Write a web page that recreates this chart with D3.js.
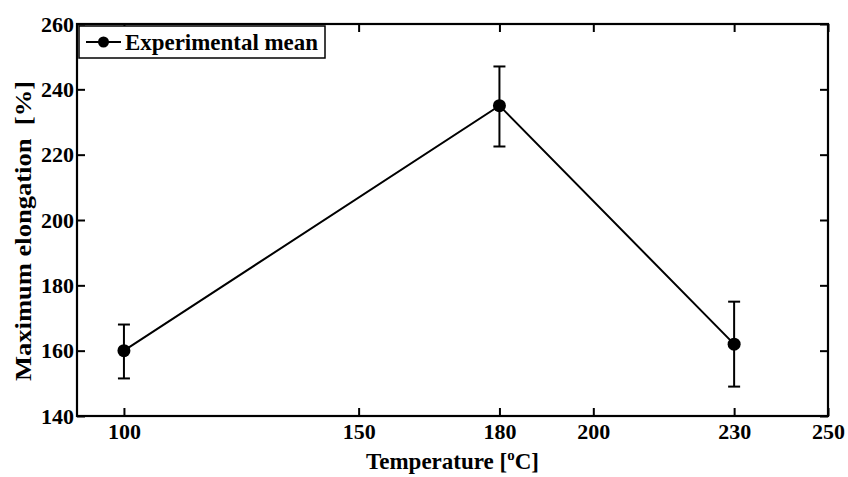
<!DOCTYPE html>
<html>
<head>
<meta charset="utf-8">
<script src="https://cdn.jsdelivr.net/npm/d3@7"></script>
<style>
  body { margin: 0; background: #fff; }
  svg text { font-family: "Liberation Serif", "DejaVu Serif", serif !important; font-weight: bold; fill: #000; }
</style>
</head>
<body>
<div id="chart"></div>
<script>
const temperatures = [100, 180, 230];
const meanElongation = [160, 235, 162];
const errLow = [151.5, 222.5, 149];
const errHigh = [168, 247, 175];
const xTicks = [100, 150, 180, 200, 230, 250];
const yTicks = [140, 160, 180, 200, 220, 240, 260];

const data = temperatures.map((t, i) => ({
  t,
  v: meanElongation[i],
  lo: errLow[i],
  hi: errHigh[i],
}));

const W = 848, H = 477;
const margin = { top: 24, right: 20, bottom: 61, left: 77 };
const width = 828 - margin.left;
const height = 416 - margin.top;
const fontSize = '22px';

const svg = d3
  .select('#chart')
  .append('svg')
  .attr('width', W)
  .attr('height', H);

const g = svg.append('g').attr('transform', 'translate(' + margin.left + ',' + margin.top + ')');

const x = d3.scaleLinear().domain([90, 250]).range([0, width]);
const y = d3.scaleLinear().domain([140, 260]).range([height, 0]);

const tickLen = 8;

// axes with inward ticks on all four sides
const styleAxis = (sel) => {
  sel.attr('font-family', null).attr('font-size', null);
  sel.select('.domain').remove();
  sel.selectAll('line').attr('stroke', '#000').attr('stroke-width', 2);
  sel.selectAll('text').style('font-size', fontSize);
};

g.append('g')
  .attr('transform', 'translate(0,' + height + ')')
  .call(d3.axisBottom(x).tickValues(xTicks).tickSize(-tickLen).tickFormat(d3.format('d')))
  .call(styleAxis)
  .selectAll('text')
  .attr('dy', '0.71em')
  .attr('y', 7);

g.append('g')
  .call(d3.axisTop(x).tickValues(xTicks).tickSize(-tickLen).tickFormat(''))
  .call(styleAxis);

g.append('g')
  .call(d3.axisLeft(y).tickValues(yTicks).tickSize(-tickLen).tickFormat(d3.format('d')))
  .call(styleAxis)
  .selectAll('text')
  .attr('x', -3);

g.append('g')
  .attr('transform', 'translate(' + width + ',0)')
  .call(d3.axisRight(y).tickValues(yTicks).tickSize(-tickLen).tickFormat(''))
  .call(styleAxis);

g.append('rect')
  .attr('width', width)
  .attr('height', height)
  .attr('fill', 'none')
  .attr('stroke', '#000')
  .attr('stroke-width', 2.2);

// error bars
const cap = 6;
const eb = g.selectAll('.eb').data(data).enter().append('g').attr('class', 'eb');
eb.append('line')
  .attr('x1', (d) => x(d.t)).attr('x2', (d) => x(d.t))
  .attr('y1', (d) => y(d.lo)).attr('y2', (d) => y(d.hi))
  .attr('stroke', '#000').attr('stroke-width', 2);
eb.append('line')
  .attr('x1', (d) => x(d.t) - cap).attr('x2', (d) => x(d.t) + cap)
  .attr('y1', (d) => y(d.lo)).attr('y2', (d) => y(d.lo))
  .attr('stroke', '#000').attr('stroke-width', 2);
eb.append('line')
  .attr('x1', (d) => x(d.t) - cap).attr('x2', (d) => x(d.t) + cap)
  .attr('y1', (d) => y(d.hi)).attr('y2', (d) => y(d.hi))
  .attr('stroke', '#000').attr('stroke-width', 2);

// mean line
g.append('path')
  .datum(data)
  .attr('fill', 'none')
  .attr('stroke', '#000')
  .attr('stroke-width', 2)
  .attr('d', d3.line().x((d) => x(d.t)).y((d) => y(d.v)));

g.selectAll('.dot')
  .data(data)
  .enter()
  .append('circle')
  .attr('cx', (d) => x(d.t))
  .attr('cy', (d) => y(d.v))
  .attr('r', 6.5)
  .attr('fill', '#000');

// legend
const legend = svg.append('g').attr('transform', 'translate(79,26)');
legend.append('rect')
  .attr('width', 246).attr('height', 32)
  .attr('fill', '#fff').attr('stroke', '#000').attr('stroke-width', 1.5);
legend.append('line')
  .attr('x1', 7).attr('x2', 42).attr('y1', 16).attr('y2', 16)
  .attr('stroke', '#000').attr('stroke-width', 2);
legend.append('circle').attr('cx', 24.5).attr('cy', 16).attr('r', 5.5).attr('fill', '#000');
legend.append('text')
  .attr('x', 46).attr('y', 24)
  .style('font-size', '23px')
  .attr('textLength', 193)
  .attr('lengthAdjust', 'spacingAndGlyphs')
  .text('Experimental mean');

// axis titles
const xt = svg.append('text')
  .attr('x', margin.left + width / 2)
  .attr('y', 469)
  .attr('text-anchor', 'middle')
  .style('font-size', '23px');
xt.append('tspan').text('Temperature [');
xt.append('tspan').attr('dy', -9).style('font-size', '15px').text('o');
xt.append('tspan').attr('dy', 9).text('C]');

svg.append('text')
  .attr('transform', 'translate(31,231) rotate(-90)')
  .attr('text-anchor', 'middle')
  .style('font-size', '24px')
  .style('white-space', 'pre')
  .attr('textLength', 300)
  .attr('lengthAdjust', 'spacingAndGlyphs')
  .text('Maximum elongation  [%]');
</script>
</body>
</html>
